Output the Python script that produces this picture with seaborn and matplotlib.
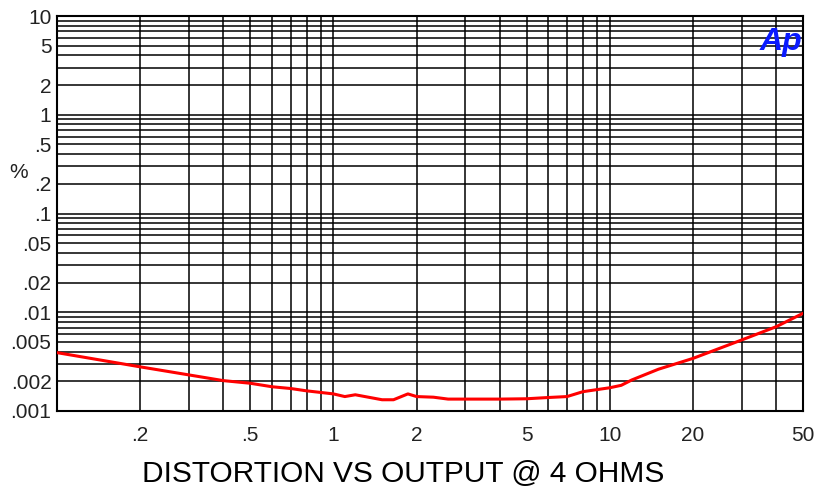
import numpy as np
import pandas as pd
import matplotlib
matplotlib.use("Agg")
import matplotlib.pyplot as plt
import matplotlib.ticker as mticker
import seaborn as sns

# Data
output_w = [0.1, 0.2, 0.3, 0.4, 0.5, 0.6, 0.7, 0.8, 1.0, 1.1, 1.2, 1.5, 1.65, 1.86,
            2.0, 2.3, 2.6, 3.0, 4.0, 5.0, 6.0, 7.0, 8.0, 10.0, 11.0, 12.0, 15.0,
            20.0, 30.0, 40.0, 50.0]
thd_pct = [0.0039, 0.0028, 0.00232, 0.00203, 0.00191, 0.00176, 0.00169, 0.0016,
           0.00149, 0.0014, 0.00146, 0.0013, 0.0013, 0.00149, 0.0014, 0.00138,
           0.00132, 0.00132, 0.00132, 0.00133, 0.00137, 0.0014, 0.00157, 0.00172,
           0.00182, 0.00206, 0.00265, 0.00341, 0.00524, 0.00714, 0.00975]

x_ticks = [0.2, 0.5, 1, 2, 5, 10, 20, 50]
x_labels = [".2", ".5", "1", "2", "5", "10", "20", "50"]
y_ticks = [0.001, 0.002, 0.005, 0.01, 0.02, 0.05, 0.1, 0.2, 0.5, 1, 2, 5, 10]
y_labels = [".001", ".002", ".005", ".01", ".02", ".05", ".1", ".2", ".5", "1", "2", "5", "10"]
title = "DISTORTION VS OUTPUT @ 4 OHMS"

sns.set_style("white")
plt.rcParams['font.family'] = ['Liberation Sans', 'DejaVu Sans']

fig = plt.figure(figsize=(8.17, 4.91), dpi=100)
ax = fig.add_axes([57/817, 1-411/491, (803-57)/817, (411-16)/491])

df = pd.DataFrame({"w": output_w, "thd": thd_pct})
sns.lineplot(data=df, x="w", y="thd", ax=ax, color="#ff0000", linewidth=2.2, zorder=5)

ax.set_xscale("log")
ax.set_yscale("log")
ax.set_xlim(0.1, 50)
ax.set_ylim(0.001, 10)

ax.xaxis.set_major_locator(mticker.FixedLocator(x_ticks))
ax.xaxis.set_major_formatter(mticker.FixedFormatter(x_labels))
ax.xaxis.set_minor_locator(mticker.LogLocator(base=10, subs=np.arange(1, 10), numticks=20))
ax.xaxis.set_minor_formatter(mticker.NullFormatter())
ax.yaxis.set_major_locator(mticker.FixedLocator(y_ticks))
ax.yaxis.set_major_formatter(mticker.FixedFormatter(y_labels))
ax.yaxis.set_minor_locator(mticker.LogLocator(base=10, subs=np.arange(1, 10), numticks=20))
ax.yaxis.set_minor_formatter(mticker.NullFormatter())

ax.grid(True, which="both", color="black", linewidth=1.1)
ax.tick_params(axis="both", which="both", length=0, labelsize=15, colors="#222222")
ax.tick_params(axis="x", pad=11)
ax.tick_params(axis="y", pad=4)
for s in ax.spines.values():
    s.set_color("black")
    s.set_linewidth(1.5)
    s.set_visible(True)

ax.set_xlabel("")
ax.set_ylabel("")
fig.text(19/817, 1-172/491, "%", fontsize=15, ha="center", va="center", color="#222222")
fig.text(403/817, 1-474/491, title, fontsize=21.5, ha="center", va="center", color="black")
fig.text(781/817, 1-50/491, "Ap", fontsize=23, fontweight="bold",
         fontstyle="italic", color="#0a1aff", ha="center", va="baseline", zorder=6)

fig.savefig("out.png", dpi=100)
